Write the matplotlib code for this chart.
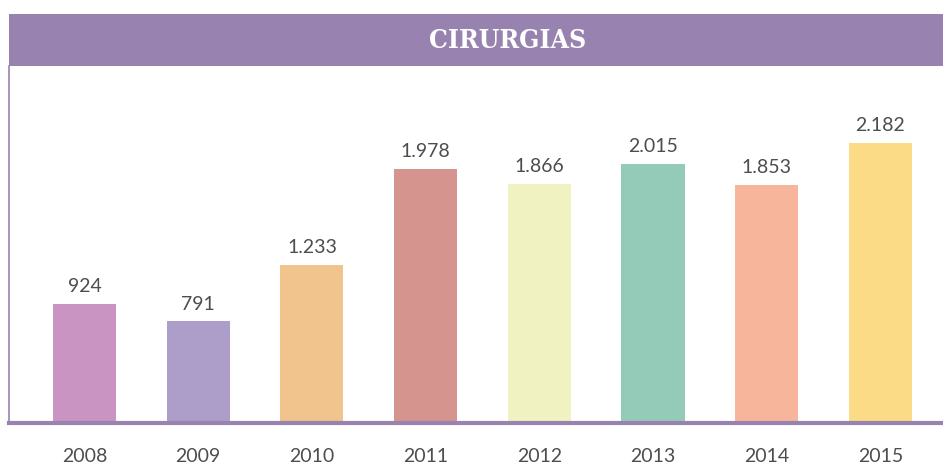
import matplotlib
matplotlib.use("Agg")
import matplotlib.pyplot as plt
from matplotlib.patches import Rectangle
from matplotlib import font_manager

anos = ["2008", "2009", "2010", "2011", "2012", "2013", "2014", "2015"]
cirurgias = [924, 791, 1233, 1978, 1866, 2015, 1853, 2182]
rotulos = ["924", "791", "1.233", "1.978", "1.866", "2.015", "1.853", "2.182"]
cores = ["#c994c2", "#ad9dc9", "#f0c48c", "#d6948f",
         "#f0f2c2", "#93cbb8", "#f7b59c", "#fbdb86"]

ROXO = "#9883b0"
W, H = 943, 466

fig = plt.figure(figsize=(W / 100, H / 100), dpi=100)

# faixa do título
fig.patches.append(Rectangle((9 / W, (H - 66) / H), (W - 9) / W, 52 / H,
                             transform=fig.transFigure, facecolor=ROXO,
                             edgecolor="none", zorder=0))
titulo = font_manager.FontProperties(family="DejaVu Serif", weight="bold",
                                     stretch="condensed", size=19)
fig.text(508 / W, (H - 41) / H, "CIRURGIAS", color="white",
         fontproperties=titulo, ha="center", va="center")

ax = fig.add_axes([9 / W, (H - 423) / H, (W - 9) / W, (423 - 66) / H])
x = list(range(len(anos)))
ax.bar(x, cirurgias, width=0.555, color=cores, zorder=2)
for xi, v, r in zip(x, cirurgias, rotulos):
    ax.text(xi, v + 70, r, ha="center", va="bottom", fontsize=14,
            family="Lato", color="#4d4d4d")

ax.set_xlim(-0.664, 7.55)
ax.set_ylim(0, 2782)
ax.set_yticks([])
ax.set_xticks(x)
ax.set_xticklabels(anos, fontsize=14, family="Lato", color="#4d4d4d")
ax.tick_params(axis="x", length=0, pad=18)
for s in ["top", "right"]:
    ax.spines[s].set_visible(False)
ax.spines["bottom"].set_color(ROXO)
ax.spines["bottom"].set_linewidth(3)
ax.spines["left"].set_color(ROXO)
ax.spines["left"].set_linewidth(1.2)

fig.savefig("out.png", dpi=100)
